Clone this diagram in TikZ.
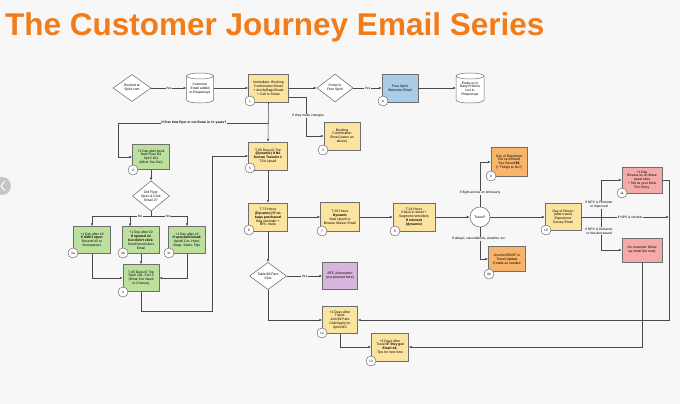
\documentclass[tikz,border=0pt]{standalone}
\usepackage{fontspec}
\setmainfont{Liberation Sans}
\usetikzlibrary{shapes.geometric,arrows.meta,calc}
\definecolor{bgc}{HTML}{F7F7F7}
\definecolor{titlec}{HTML}{F27C1A}
\definecolor{ylw}{HTML}{FBE3A0}
\definecolor{grn}{HTML}{BDE09E}
\definecolor{org}{HTML}{F8B46A}
\definecolor{blu}{HTML}{A9CCE8}
\definecolor{pnk}{HTML}{F4ABA8}
\definecolor{prp}{HTML}{D7B5DC}
\definecolor{bord}{HTML}{6E6E6E}
\definecolor{lc}{HTML}{4A4A4A}
\begin{document}
\begin{tikzpicture}[x=1pt,y=-1pt,
  bx/.style={draw=bord, line width=0.45pt, inner sep=0.5pt, align=center,
    font=\fontsize{3.4}{3.9}\selectfont},
  ybox/.style={bx, fill=ylw},
  gbox/.style={bx, fill=grn},
  obox/.style={bx, fill=org},
  bbox/.style={bx, fill=blu},
  pbox/.style={bx, fill=pnk},
  ubox/.style={bx, fill=prp},
  dia/.style={diamond, draw=bord, fill=white, line width=0.55pt, inner sep=0pt, align=center,
    font=\fontsize{3.4}{3.9}\selectfont},
  cyltext/.style={inner sep=0pt, align=center, font=\fontsize{3.4}{3.9}\selectfont},
  num/.style={circle, draw=gray!80!black, fill=white, line width=0.45pt, minimum size=10pt,
    inner sep=0pt, font=\fontsize{3.2}{3.6}\selectfont},
  ln/.style={draw=lc, line width=0.55pt},
  arr/.style={ln, -{Latex[length=3pt,width=2.5pt]}},
  lbl/.style={font=\fontsize{3.3}{3.8}\selectfont, fill=bgc, inner sep=0.6pt, align=center}]
\path[fill=bgc] (0,0) rectangle (680,404);
\useasboundingbox (0,0) rectangle (680,404);

% slide nav circle at left edge
\fill[gray!45] (2,186) circle (9);
\draw[white, line width=1pt] (5,181) -- (1,186) -- (5,191);

\node[anchor=base west, font=\fontsize{31.5}{32}\selectfont\bfseries, text=titlec, inner sep=0] (title) at (5,36) {The Customer Journey Email Series};

% ---- top row
\node[dia, minimum width=38, minimum height=27] (d1) at (132,88) {Booked at\\Spirit.com};

\path[draw=bord, fill=white, line width=0.5pt] (186.5,76) -- (186.5,100)
  arc[start angle=180, end angle=0, x radius=13.5, y radius=3] -- (213.5,76)
  arc[start angle=0, end angle=-180, x radius=13.5, y radius=3] -- cycle;
\draw[bord, line width=0.5pt] (186.5,76) arc[start angle=180, end angle=0, x radius=13.5, y radius=3];
\node[cyltext, minimum width=27, minimum height=30] (c1) at (200,89) {Customer\\Email added\\to Responsys};

\node[ybox, minimum width=40, minimum height=28] (b1) at (268.5,88) {Immediate: Booking\\Confirmation Email\\+ Ancils/Bags/Seats\\+ Call to Share};
\node[num] (n1) at (250,101) {1};

\node[dia, minimum width=36, minimum height=28] (d2) at (335,88) {If new to\\Free Spirit};

\node[bbox, minimum width=36, minimum height=28] (bA) at (400,88) {Free Spirit\\Welcome Email};
\node[num] (nA) at (383,101) {A};

\path[draw=bord, fill=white, line width=0.5pt] (456,76) -- (456,100)
  arc[start angle=180, end angle=0, x radius=14, y radius=3] -- (484,76)
  arc[start angle=0, end angle=-180, x radius=14, y radius=3] -- cycle;
\draw[bord, line width=0.5pt] (456,76) arc[start angle=180, end angle=0, x radius=14, y radius=3];
\node[cyltext, minimum width=28, minimum height=30] (c2) at (470,89) {Ends up in\\Daily Promos\\List in\\Responsys};

\node[ybox, minimum width=36, minimum height=28] (b3) at (342,136) {Booking\\Confirmation\\Email (same as\\above)};
\node[num] (n3) at (323,150) {3};

% ---- left green branch
\node[gbox, minimum width=37, minimum height=25] (g2) at (151,157) {+1 Day after book\\New Flyer Ed\\Spirit 101\\(What You Get)};
\node[num] (n2) at (133,170) {2};
\node[dia, minimum width=37, minimum height=28] (dd) at (151,196) {Did Flyer\\Open \& Click\\Email 2?};

\node[gbox, minimum width=37, minimum height=27] (g3a) at (92,240) {+1 Day after \#2\\\textbf{If didn't open:}\\Resend \#2 to\\Nonopeners};
\node[num] (n3a) at (73,253) {3a};
\node[gbox, minimum width=37, minimum height=27] (g3b) at (141,240) {+1 Day after \#2\\\textbf{If opened \#2}\\\textbf{but didn't click:}\\Send Nonclickers\\Email};
\node[num] (n3b) at (123,253) {3b};
\node[gbox, minimum width=37, minimum height=27] (g3c) at (187,240) {+1 Day after \#2\\\textbf{If opened/clicked:}\\Upsell Car, Hotel,\\Bags, Seats, Flgs};
\node[num] (n3c) at (169,253) {3c};

\node[gbox, minimum width=36, minimum height=27] (g4) at (141,278) {T-45 Days til Trip\\Spirit 101, Part 2\\(What You Need\\to Choose)};
\node[num] (n4) at (123,292) {4};

% ---- middle column
\node[ybox, minimum width=39, minimum height=28] (b5) at (268,156) {T-90 Days til Trip\\\textbf{(Dynamic) If No}\\\textbf{Known Traveler \#}\\TSA Upsell};
\node[num] (n5) at (250,168) {5};

\node[ybox, minimum width=39, minimum height=28] (b6) at (268,217) {T-72 Hours\\\textbf{(Dynamic) IF no}\\\textbf{bags purchased}\\Bag reminder +\\BFC Invite};
\node[num] (n6) at (249,230) {6};

\node[ybox, minimum width=39, minimum height=29] (b7) at (340,217) {T-36 Hours\\\textbf{Dynamic}\\Seat Upsell or\\Browse Waiver Email};
\node[num] (n7) at (322,231) {7};

\node[ybox, minimum width=42, minimum height=28] (b8) at (414,217) {T-24 Hours\\Check in email +\\Segment reminders\\\textbf{If relevant}\\\textbf{(dynamic)}};
\node[num] (n8) at (395,231) {8};

\node[circle, draw=bord, fill=white, line width=0.55pt, minimum size=20, inner sep=0pt, font=\fontsize{3.4}{3.9}\selectfont] (tr) at (480,217) {Travel?};

\node[obox, minimum width=36, minimum height=29] (o9) at (509,162) {Day of Departure\\You've Arrived!\\You Saved \textbf{\$\$}\\(+ Things to Do?)};
\node[num] (n9) at (491,176) {9};

\node[obox, minimum width=37, minimum height=25] (o9b) at (507,259) {Voucher/RKDP or\\Travel Update\\Emails as needed};
\node[num] (n9b) at (489,274) {9b};

\node[ybox, minimum width=36, minimum height=27] (b10) at (563,217) {Day of Return\\(after travel)\\Experience\\Survey Email};
\node[num] (n10) at (546,230) {10};

\node[pbox, minimum width=40, minimum height=26] (p11) at (642,180) {+1 Day\\Review us on these\\travel sites\\+ Tell us your Most\\Fun Story};
\node[num] (n11) at (622,193) {11};

\node[pbox, minimum width=40, minimum height=24] (p12) at (642,250) {No customer follow\\up email (for now)};

% ---- lower part
\node[dia, minimum width=37, minimum height=27] (d3) at (268,276) {Table \$9 Fare\\Club};
\node[ubox, minimum width=35, minimum height=27] (pu) at (340,276) {BFC Automation\\(not pictured here)};

\node[ybox, minimum width=35, minimum height=27] (b12) at (340,320) {+2 Days After\\Travel:\\Join \$9 Fare\\Club/Apply for\\Spirit MC};
\node[num] (n12) at (322,333) {12};

\node[ybox, minimum width=37, minimum height=28] (b13) at (390,347) {+3 Days After\\Travel \textbf{IF they got}\\\textbf{Email \#4:}\\Tips for next time};
\node[num] (n13) at (371,361) {13};

% ---- coordinates
\coordinate (j1) at (268,123);
\coordinate (j2) at (151,216);
\coordinate (jr) at (601,217);

% ---- connectors
\draw[arr] (d1.east) -- node[lbl] {Yes} (186.5,88);
\draw[arr] (213.5,88) -- (b1.west);
\draw[arr] (b1.east) -- (d2.west);
\draw[arr] (d2.east) -- node[lbl] {Yes} (bA.west);
\draw[arr] (bA.east) -- (456,88);
\draw[arr] ($(b1.east)+(0,9)$) -- (306,97) |- (b3.west);
\node[lbl] (lchg) at (308,116) {If they make changes};

\draw[arr] (b1.south) -- (b5.north);
\draw[arr] (j1) -- (118,123) |- (g2.west);
\node[lbl, font=\fontsize{3.3}{3.8}\selectfont\bfseries] (lfirst) at (194,123) {If first time flyer or not flown in 1+ years?};

\draw[arr] (g2.south) -- (dd.north);
\draw[ln] (dd.south) -- (j2);
\draw[ln] (92,216) -- (187,216);
\draw[arr] (92,216) -- (g3a.north);
\draw[arr] (130,216) -- (130,226.5);
\draw[arr] (187,216) -- (g3c.north);
\node[lbl] (lno) at (140,216) {No};
\node[lbl] (lyes) at (168,216) {Yes};

\draw[arr] (g3a.south) |- (g4.west);
\draw[arr] (g3b.south) -- (g4.north);
\draw[arr] (g3c.south) |- (g4.east);
\draw[arr] (g4.south) -- (141,311) -- (212,311) |- (b5.west);

\draw[arr] (b5.south) -- (b6.north);
\draw[arr] (b6.east) -- (b7.west);
\draw[arr] (b7.east) -- (b8.west);
\draw[arr] (b8.east) -- (tr.west);
\draw[arr] (tr.north) |- (o9.west);
\node[lbl] (lflt) at (480,193) {If flight arrives on time/early};
\draw[arr] (tr.south) |- (o9b.west);
\node[lbl] (ldel) at (479,239) {If delays, cancellations, weather, etc.};
\draw[arr] (tr.east) -- (b10.west);

\draw[arr] (b10.east) -- (669,217);
\node[lbl] (lneu) at (630,217) {If NPS is Neutral};
\draw[arr] (jr) |- (p11.west);
\draw[arr] (jr) |- (p12.west);
\node[lbl] (lpro) at (599,205) {If NPS is Promoter\\or improved};
\node[lbl] (ldet) at (599,231) {If NPS is Detractor\\or has decreased};

\draw[arr] (p11.east) -- (669,180) -- (669,320) -- (b12.east);
\draw[arr] (p12.south) -- (642,347) -- (b13.east);

\draw[arr] (b6.south) -- (d3.north);
\draw[arr] (d3.east) -- node[lbl] {Yes} (pu.west);
\draw[arr] (d3.south) |- (b12.west);
\draw[arr] (b12.south) |- (b13.west);
\end{tikzpicture}
\end{document}
